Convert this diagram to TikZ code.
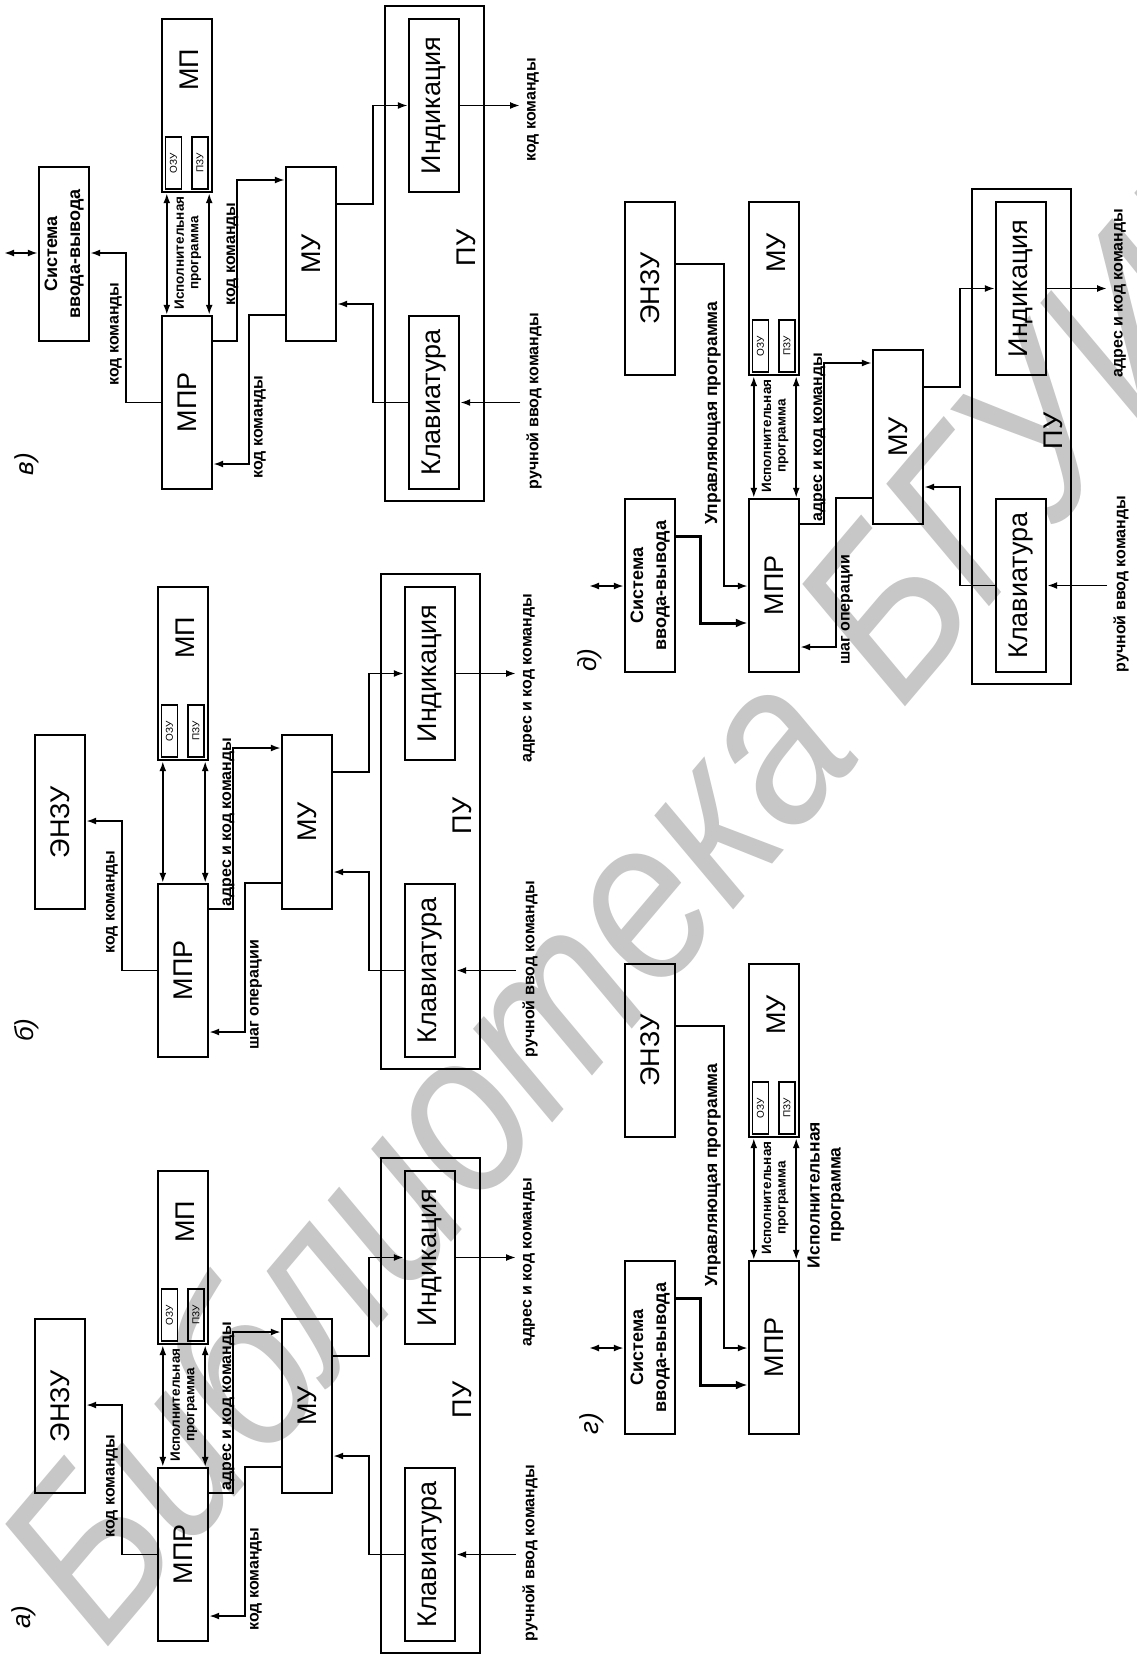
\documentclass[tikz,border=0pt]{standalone}
\usepackage{fontspec}
\usepackage{graphicx}
\setmainfont{Liberation Sans}
\usetikzlibrary{arrows.meta}
\newcommand\fbig{\fontsize{27}{30}\selectfont}
\newcommand\flab{\fontsize{16}{18}\selectfont\bfseries}
\newcommand\fexec{\fontsize{13.5}{14.5}\selectfont\bfseries}
\newcommand\fmid{\fontsize{17.5}{21}\selectfont\bfseries}
\newcommand\fsys{\fontsize{18}{23}\selectfont\bfseries}
\newcommand\fmem{\fontsize{10}{11}\selectfont}
\newcommand\fletter{\fontsize{26}{28}\selectfont\itshape}
\newcommand\systext{\rotatebox{90}{\fsys\begin{tabular}{@{}c@{}}Система\\ввода-вывода\end{tabular}}}
\tikzset{
  box/.style={draw, line width=2.4pt, inner sep=0pt, minimum width=50pt, minimum height=173pt},
  membox/.style={draw, line width=1.6pt, inner sep=0pt, minimum width=16pt, minimum height=52pt},
  conn/.style={line width=1.8pt, -{Latex[length=10pt,width=7pt]}},
  dconn/.style={line width=1.8pt, {Latex[length=10pt,width=7pt]}-{Latex[length=10pt,width=7pt]}},
  thickconn/.style={line width=3pt, -{Latex[length=12pt,width=9pt]}},
  lab/.style={rotate=90, inner sep=0pt, font=\flab},
  mlab/.style={rotate=90, inner sep=0pt, font=\fmid, align=center},
  bigtext/.style={rotate=90, inner sep=0pt, font=\fbig},
  letter/.style={rotate=90, inner sep=0pt, font=\fletter},
  wmark/.style={rotate=49.7, xscale=0.95, yscale=1.08, transform shape, inner sep=0pt, text=black!22, font=\fontsize{212}{212}\selectfont\itshape}
}
% MPR, top memory box, ОЗУ/ПЗУ, double arrows
\newcommand\corepart[2]{%
  \node[box] (#1mpr) at (183,1554.5) {\rotatebox{90}{\fbig МПР}};
  \node[box] (#1mp) at (183,1257.5) {};
  \node[bigtext] (#1mpt) at (185,1222) {#2};
  \node[membox] (#1ozu) at (169.5,1315) {\rotatebox{90}{\fmem ОЗУ}};
  \node[membox] (#1pzu) at (196,1315) {\rotatebox{90}{\fmem ПЗУ}};
  \draw[dconn] ([xshift=6pt]#1mpr.north west) -- ([xshift=6pt]#1mp.south west);
  \draw[dconn] ([xshift=-4pt]#1mpr.north east) -- ([xshift=-4pt]#1mp.south east);
}
% MU and ПУ block with connectors
\newcommand\pupart[4]{%
  \node[box, minimum height=174pt] (#1mu) at (307,1406) {\rotatebox{90}{\fbig МУ}};
  \node[box, minimum width=99pt, minimum height=495pt] (#1pu) at (430.5,1405.5) {};
  \node[bigtext] (#1put) at (462,1400) {ПУ};
  \node[box] (#1ind) at (430,1257.5) {\rotatebox{90}{\fbig Индикация}};
  \node[box] (#1klav) at (430,1554.5) {\rotatebox{90}{\fbig Клавиатура}};
  \coordinate (#1out) at (516,1257.5);
  \coordinate (#1in) at (516,1554.5);
  \draw[conn] (#1ind.east) -- (#1out);
  \draw[conn] (#1in) -- (#1klav.east);
  \draw[conn] (#1mu.east |- 0,1356) -- (369,1356) |- (#1ind.west);
  \draw[conn] (#1klav.west) -- (369,1554.5) |- (#1mu.east |- 0,1456);
  \draw[conn] (#1mpr.east |- 0,1493) -- (233,1493) |- (#1mu.west |- 0,1332);
  \draw[conn] (#1mu.west |- 0,1467) -- (245,1467) |- (#1mpr.east |- 0,1616);
  \node[lab, anchor=base] (#1lv) at (231,1406) {#2};
  \node[lab] (#1lb) at (256,1579) {#3};
  \node[lab] (#1lo) at (529,1262) {#4};
  \node[lab] (#1li) at (530,1553) {ручной ввод команды};
}
% left box for а), б), в)
\newcommand\leftpart[2]{%
  \node[box, minimum height=174pt] (#1left) at (60,1406) {#2};
  \draw[conn] (#1mpr.west) -- (122,1554.5) |- (#1left.east |- 0,1405);
  \node[lab] (#1ll) at (112,1486) {код команды};
}
% left column for г), д)
\newcommand\gdleft[1]{%
  \node[box] (#1enzu) at (59,1257.5) {\rotatebox{90}{\fbig ЭНЗУ}};
  \node[box] (#1sys) at (59,1554.5) {\systext};
  \draw[conn] (#1enzu.east |- 0,1233) -- (133,1233) |- (#1mpr.west |- 0,1555);
  \draw[thickconn] (#1sys.east |- 0,1505) -- (109,1505) |- (#1mpr.west |- 0,1592);
  \coordinate (#1io) at (-2,1555);
  \draw[dconn] (#1io) -- (#1sys.west |- 0,1555);
  \node[mlab] (#1lu) at (122,1382) {Управляющая программа};
}
\newcommand\execlabel[1]{%
  \node[rotate=90, font=\fexec, align=center, inner sep=0pt] (#1lx) at (184,1405) {Исполнительная\\программа};
}
\begin{document}
\begin{tikzpicture}[x=1pt,y=-1pt]
\useasboundingbox (0,0) rectangle (1136,1656);
\fill[white] (0,0) rectangle (1136,1656);
\node[wmark] (wm) at (649,881) {Библиотека БГУИР};

% а)
\begin{scope}
  \corepart{a}{МП}
  \pupart{a}{адрес и код команды}{код команды}{адрес и код команды}
  \leftpart{a}{\rotatebox{90}{\fbig ЭНЗУ}}
  \execlabel{a}
\end{scope}
\node[letter] (la) at (24,1617) {а)};

% б)
\begin{scope}[shift={(0,-584)}]
  \corepart{b}{МП}
  \pupart{b}{адрес и код команды}{шаг операции}{адрес и код команды}
  \leftpart{b}{\rotatebox{90}{\fbig ЭНЗУ}}
\end{scope}
\node[letter] (lb) at (27,1030) {б)};

% в)
\begin{scope}[shift={(4,-1152)}]
  \corepart{c}{МП}
  \pupart{c}{код команды}{код команды}{код команды}
  \leftpart{c}{\systext}
  \execlabel{c}
  \coordinate (cio) at (0,1405);
  \draw[dconn] (cio) -- (cleft.west |- 0,1405);
\end{scope}
\node[letter] (lc) at (27,464) {в)};

% г)
\begin{scope}[shift={(591,-207)}]
  \corepart{d}{МУ}
  \gdleft{d}
  \execlabel{d}
  \node[mlab] (dlx2) at (235,1402) {Исполнительная\\программа};
\end{scope}
\node[letter] (ld) at (592,1424) {г)};

% д)
\begin{scope}[shift={(591,-969)}]
  \corepart{e}{МУ}
  \pupart{e}{адрес и код команды}{шаг операции}{адрес и код команды}
  \gdleft{e}
  \execlabel{e}
\end{scope}
\node[letter] (le) at (590,660) {д)};
\end{tikzpicture}
\end{document}
